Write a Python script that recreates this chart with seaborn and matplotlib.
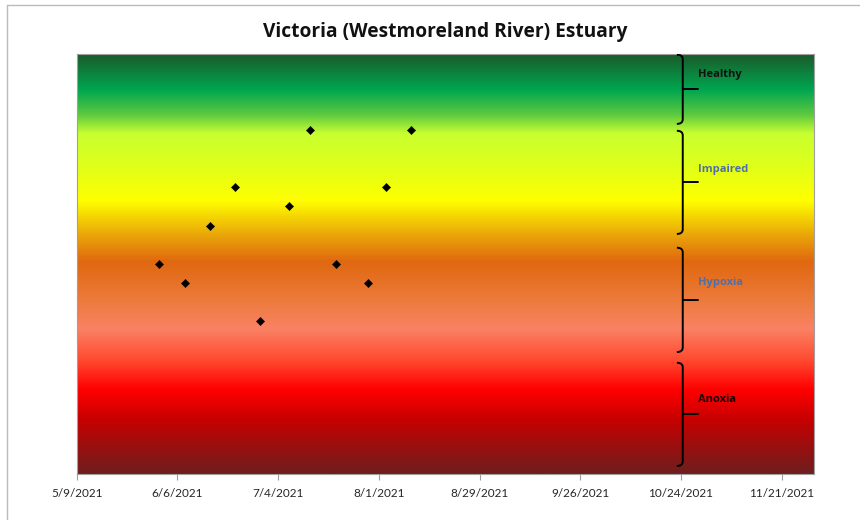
import matplotlib
import numpy as np
import pandas as pd
import seaborn as sns

matplotlib.use("Agg")
import matplotlib.pyplot as plt
from matplotlib.colors import LinearSegmentedColormap
from matplotlib.path import Path
from matplotlib.patches import PathPatch
import matplotlib.transforms as mtransforms

# sample dates and dissolved oxygen readings (no y labels on the original)
sample_dates = ["2021-06-01", "2021-06-08", "2021-06-15", "2021-06-22", "2021-06-29",
                "2021-07-07", "2021-07-13", "2021-07-20", "2021-07-29", "2021-08-03",
                "2021-08-10"]
do_values = [5.5, 5.0, 6.5, 7.5, 4.0, 7.0, 9.0, 5.5, 5.0, 7.5, 9.0]

tick_dates = pd.date_range("2021-05-09", periods=8, freq="28D")
x_min, x_max = pd.Timestamp("2021-05-09"), pd.Timestamp("2021-11-30")
y_min, y_max = 0, 11

zone_names = ["Healthy", "Impaired", "Hypoxia", "Anoxia"]
zone_tops = [10.97, 8.98, 5.92, 2.91]
zone_bottoms = [9.16, 6.28, 3.19, 0.21]
zone_text_y = [10.45, 7.96, 5.0, 1.94]
zone_colors = ["#111111", "#4f6fa8", "#4f6fa8", "#1a0000"]

# background gradient, top -> bottom
grad_stops = [(0.0, "#1b5a2a"), (0.086, "#00a650"), (0.145, "#5dc93f"), (0.19, "#c8ff30"),
              (0.27, "#e0ff18"), (0.35, "#ffff00"), (0.43, "#eaa808"), (0.495, "#e06810"),
              (0.585, "#ec7a3a"), (0.655, "#fa8264"), (0.73, "#ff4a30"), (0.80, "#ff0000"),
              (0.87, "#c80000"), (1.0, "#6e1e1e")]

df = pd.DataFrame({"date": pd.to_datetime(sample_dates), "DO": do_values})

sns.set_style("ticks")
plt.rcParams["font.family"] = ["Lato", "DejaVu Sans"]

fig = plt.figure(figsize=(8.6, 5.2), dpi=100)
ax = fig.add_axes([0.0892, 0.0885, 0.8573, 0.8085])

cmap = LinearSegmentedColormap.from_list("zones", grad_stops)
grad = np.linspace(0, 1, 512).reshape(-1, 1)
ax.imshow(grad, cmap=cmap, aspect="auto", extent=[0, 1, 0, 1],
          transform=ax.transAxes, origin="upper", zorder=0, interpolation="bilinear")

sns.scatterplot(data=df, x="date", y="DO", marker="D", color="black", s=18,
                edgecolor="black", linewidth=0.3, ax=ax, zorder=3)

ax.set_xlim(x_min, x_max)
ax.set_ylim(y_min, y_max)
ax.set_xticks(tick_dates)
ax.set_xticklabels([f"{d.month}/{d.day}/{d.year}" for d in tick_dates], fontsize=8.5)
ax.set_yticks([])
ax.set_xlabel("")
ax.set_ylabel("")
ax.tick_params(axis="x", length=4, color="#a0a0a0", pad=6)
for side in ["top", "right", "left", "bottom"]:
    ax.spines[side].set_color("#a0a0a0")
    ax.spines[side].set_linewidth(0.8)

# curly brackets with zone labels on the right
trans = mtransforms.blended_transform_factory(ax.transAxes, ax.transData)
xl, xv, xt = 0.814, 0.822, 0.843
ry = 0.12
for name, top, bot, ty, col in zip(zone_names, zone_tops, zone_bottoms, zone_text_y, zone_colors):
    mid = (top + bot) / 2
    verts = [(xl, top), (xv, top), (xv, top - ry), (xv, bot + ry), (xv, bot), (xl, bot)]
    codes = [Path.MOVETO, Path.CURVE3, Path.CURVE3, Path.LINETO, Path.CURVE3, Path.CURVE3]
    ax.add_patch(PathPatch(Path(verts, codes), transform=trans, fill=False,
                           edgecolor="black", linewidth=1.4, zorder=4))
    ax.plot([xv, xt], [mid, mid], transform=trans, color="black", linewidth=1.4, zorder=4)
    ax.text(xt, ty, name, transform=trans, fontsize=8, fontweight="bold",
            family=["Open Sans", "DejaVu Sans"], color=col, ha="left", va="center", zorder=5)

ax.set_title("Victoria (Westmoreland River) Estuary", fontsize=13.8, fontweight="bold",
             family=["Open Sans", "DejaVu Sans"], pad=12, color="#111111")

# chart area border remnants (top and left)
fig.add_artist(plt.Line2D([7 / 860, 1], [1 - 5 / 520, 1 - 5 / 520], color="#bbbbbb", linewidth=1))
fig.add_artist(plt.Line2D([7 / 860, 7 / 860], [0, 1 - 5 / 520], color="#bbbbbb", linewidth=1))

fig.savefig("out.png", dpi=100)
